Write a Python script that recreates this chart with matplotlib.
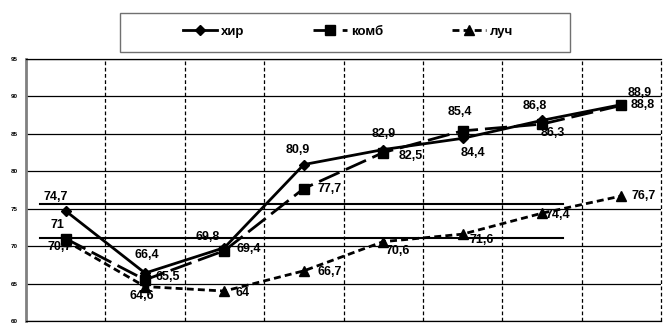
import matplotlib
matplotlib.use("Agg")
import matplotlib.pyplot as plt
from matplotlib.patches import Rectangle

plt.rcParams['font.family'] = ['Liberation Sans', 'DejaVu Sans']
plt.rcParams['font.weight'] = 'bold'

categories = list(range(8))
hir = [74.7, 66.4, 69.8, 80.9, 82.9, 84.4, 86.8, 88.9]
komb = [71, 65.5, 69.4, 77.7, 82.5, 85.4, 86.3, 88.8]
luch = [70.7, 64.6, 64, 66.7, 70.6, 71.6, 74.4, 76.7]
series_names = ['хир', 'комб', 'луч']
yticks = [60, 65, 70, 75, 80, 85, 90, 95]
ref_levels = [75.6, 71.1]
ref_span = (-0.32, 6.26)

# label offsets (pixels)
hir_off = [(-10, 14), (2, 18), (-17, 11), (-6, 15), (0, 16), (10, -15), (-7, 14), (18, 12)]
komb_off = [(-8, 14), (23, 3), (24, 2), (26, 0), (28, -3), (-3, 19), (11, -9), (21, 0)]
luch_off = [(-6, -6), (-3, -9), (18, -2), (26, -1), (15, -9), (19, -6), (16, -2), (22, 0)]

fig = plt.figure(figsize=(6.69, 3.27), dpi=100)
ax = fig.add_axes([26/669, 1-321/327, 635/669, 262/327])
ax.set_xlim(-0.5, 7.5)
ax.set_ylim(60, 95)

for y in yticks:
    ax.axhline(y, color='black', lw=0.9, zorder=1)
for i in range(1, 9):
    ax.axvline(i - 0.5, color='black', lw=0.9, ls=(0, (3, 2)), zorder=1, clip_on=False)

for lvl in ref_levels:
    ax.plot(ref_span, [lvl, lvl], color='black', lw=1.5, zorder=2)

l1, = ax.plot(categories, hir, color='black', lw=2, marker='D', ms=5, zorder=4)
l2, = ax.plot(categories, komb, color='black', lw=2, ls=(0, (8, 2.5)), marker='s', ms=7, zorder=4)
l3, = ax.plot(categories, luch, color='black', lw=2, ls=(0, (2.5, 1.5)), marker='^', ms=7, zorder=4)

for vals, offs in ((hir, hir_off), (komb, komb_off), (luch, luch_off)):
    for x, v, o in zip(categories, vals, offs):
        ax.annotate(f"{v:g}".replace('.', ','), (x, v), xytext=o, textcoords='offset pixels',
                    ha='center', va='center', fontsize=9, fontweight='bold', zorder=5)

ax.set_xticks([])
ax.set_yticks(yticks)
ax.set_yticklabels([str(t) for t in yticks], fontsize=4.5, fontweight='bold')
ax.tick_params(axis='y', length=0, pad=6)
for s in ['top', 'bottom']:
    ax.spines[s].set_color('black')
    ax.spines[s].set_linewidth(0.9)
ax.spines['right'].set_visible(False)
ax.spines['left'].set_color('#808080')
ax.spines['left'].set_linewidth(2)

fig.patches.append(Rectangle((120/669, 1-52/327), 450/669, 39/327, transform=fig.transFigure,
                             fill=False, edgecolor='#707070', lw=1))
leg = fig.legend([l1, l2, l3], series_names, loc='center', bbox_to_anchor=(348/669, 1-32/327),
                 ncol=3, frameon=False, handlelength=2.6, handletextpad=0.3,
                 columnspacing=5.2, prop={'weight': 'bold', 'size': 9.5})

fig.savefig('out.png', dpi=100)
